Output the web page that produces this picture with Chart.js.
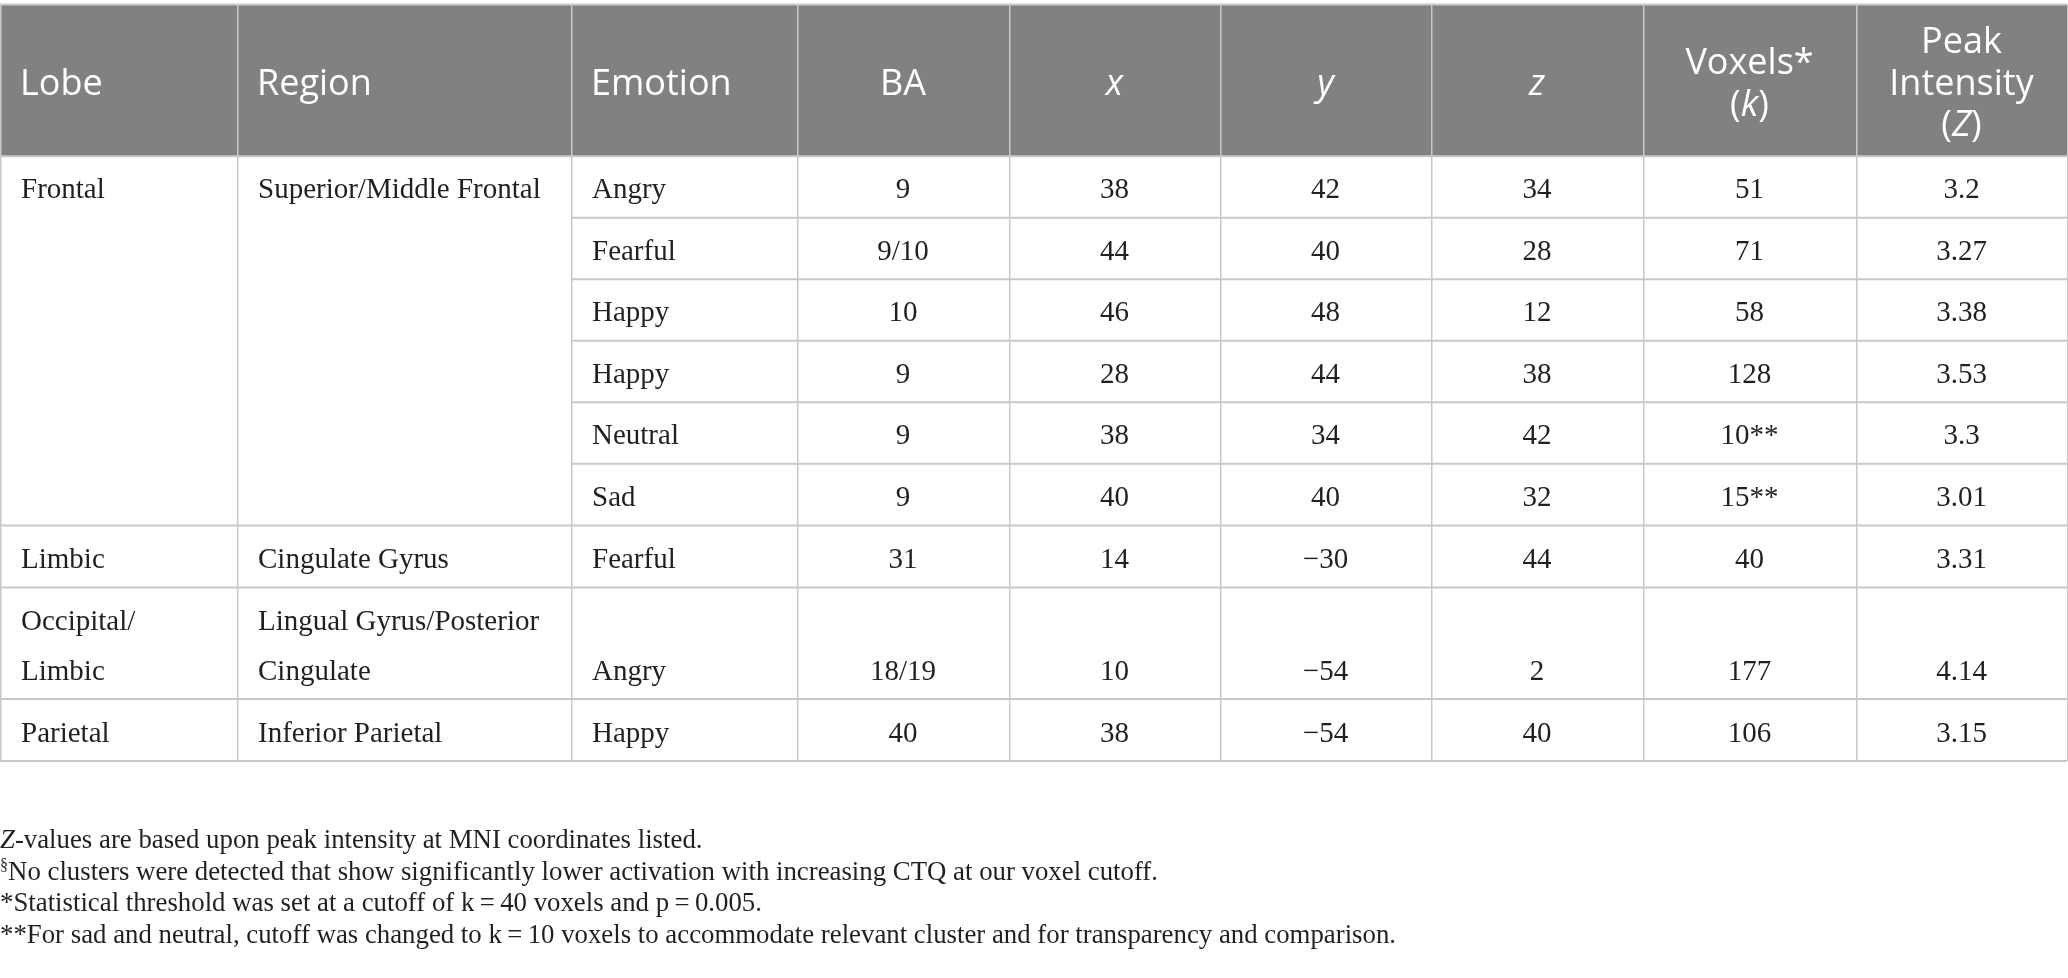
<!DOCTYPE html>
<html lang="en">
<head>
<meta charset="UTF-8">
<title>Clusters by lobe and emotion</title>
<script src="https://cdn.jsdelivr.net/npm/chart.js"></script>
<style>
    body { margin: 0; background: #ffffff; }
    canvas { display: block; }
</style>
</head>
<body>
<canvas id="tableChart" width="2068" height="978"></canvas>
<script>
// ---- table content ("_" toggles italic, "^" toggles superscript, "\n" breaks a line) ----
const headerLabels = ["Lobe", "Region", "Emotion", "BA", "_x_", "_y_", "_z_", "Voxels*\n(_k_)", "Peak\nIntensity\n(_Z_)"];
const lobes    = ["Frontal", "", "", "", "", "", "Limbic", "Occipital/\nLimbic", "Parietal"];
const regions  = ["Superior/Middle Frontal", "", "", "", "", "", "Cingulate Gyrus", "Lingual Gyrus/Posterior\nCingulate", "Inferior Parietal"];
const spans    = [6, 0, 0, 0, 0, 0, 1, 1, 1];   // rows covered by the lobe/region cell
const emotions = ["Angry", "Fearful", "Happy", "Happy", "Neutral", "Sad", "Fearful", "Angry", "Happy"];
const baAreas  = ["9", "9/10", "10", "9", "9", "9", "31", "18/19", "40"];
const xCoords  = [38, 44, 46, 28, 38, 40, 14, 10, 38];
const yCoords  = [42, 40, 48, 44, 34, 40, -30, -54, -54];
const zCoords  = [34, 28, 12, 38, 42, 32, 44, 2, 40];
const voxels   = ["51", "71", "58", "128", "10**", "15**", "40", "177", "106"];
const peakZ    = ["3.2", "3.27", "3.38", "3.53", "3.3", "3.01", "3.31", "4.14", "3.15"];
const footnotes = [
    "_Z_-values are based upon peak intensity at MNI coordinates listed.",
    "^§^No clusters were detected that show significantly lower activation with increasing CTQ at our voxel cutoff.",
    "*Statistical threshold was set at a cutoff of k\u2009=\u200940 voxels and p\u2009=\u20090.005.",
    "**For sad and neutral, cutoff was changed to k\u2009=\u200910 voxels to accommodate relevant cluster and for transparency and comparison."
];

// ---- layout (table units = pixels of the scales below) ----
const colEdges = [0, 237, 571, 797, 1009, 1220, 1431, 1643, 1856, 2067];
const rowEdges = [4.5, 156.3, 217.8, 279.3, 340.8, 402.3, 463.8, 525.5, 587.5, 699, 761];
const leftCols = 3;            // Lobe, Region, Emotion are left aligned
const HEAD_BG = "#808281";
const GRID = "#c8c8c8";
const INK = "#231f20";
const headFont = "36px 'Open Sans'";
const bodyFont = "29px 'Liberation Serif'";
const noteFont = "26.8px 'Liberation Serif'";

const fmt = v => (typeof v === "number" && v < 0 ? "\u2212" + Math.abs(v) : String(v));

function drawRich(ctx, text, xPos, yBase, align, font) {
    const segs = [];
    let italic = false, sup = false, buf = "";
    const size = parseFloat(font);
    const family = font.slice(font.indexOf(" ") + 1);
    const push = () => {
        if (!buf) return;
        const f = (italic ? "italic " : "") + (sup ? size * 0.6 : size) + "px " + family;
        ctx.font = f;
        segs.push({ t: buf, f, w: ctx.measureText(buf).width, dy: sup ? -size * 0.35 : 0 });
        buf = "";
    };
    for (const ch of text) {
        if (ch === "_") { push(); italic = !italic; }
        else if (ch === "^") { push(); sup = !sup; }
        else buf += ch;
    }
    push();
    const total = segs.reduce((s, g) => s + g.w, 0);
    let cx = align === "center" ? xPos - total / 2 : xPos;
    ctx.textAlign = "left";
    ctx.textBaseline = "alphabetic";
    segs.forEach(g => { ctx.font = g.f; ctx.fillText(g.t, cx, yBase + g.dy); cx += g.w; });
}

const tablePlugin = {
    id: "tableCells",
    afterDraw(chart) {
        const { ctx, scales: { x, y } } = chart;
        const px = v => x.getPixelForValue(v);
        const py = v => y.getPixelForValue(v);
        ctx.save();

        // header band
        ctx.fillStyle = HEAD_BG;
        ctx.fillRect(px(colEdges[0]), py(rowEdges[0]), px(colEdges[9]) - px(colEdges[0]), py(rowEdges[1]) - py(rowEdges[0]));

        // header labels
        ctx.fillStyle = "#ffffff";
        headerLabels.forEach((lab, c) => {
            const lines = lab.split("\n");
            const mid = 94.8, lh = 41.5;
            lines.forEach((ln, i) => {
                const base = mid + (i - (lines.length - 1) / 2) * lh;
                if (c < leftCols) drawRich(ctx, ln, px(colEdges[c] + 20), py(base), "left", headFont);
                else drawRich(ctx, ln, px((colEdges[c] + colEdges[c + 1]) / 2), py(base), "center", headFont);
            });
        });

        // body cells (body row r runs from rowEdges[r + 1] to rowEdges[r + 2])
        ctx.fillStyle = INK;
        const cellText = (txt, c, r, rowsCovered, topAlign) => {
            const lines = txt.split("\n");
            const bottom = rowEdges[r + 1 + rowsCovered];
            lines.forEach((ln, i) => {
                let base;
                if (topAlign) base = rowEdges[r + 1] + 42 + i * 50;
                else base = bottom - 19.5 - (lines.length - 1 - i) * 50;
                if (c < leftCols) drawRich(ctx, ln, px(colEdges[c] + 21), py(base), "left", bodyFont);
                else drawRich(ctx, ln, px((colEdges[c] + colEdges[c + 1]) / 2), py(base), "center", bodyFont);
            });
        };
        emotions.forEach((em, r) => {
            if (spans[r] > 0) {
                const top = spans[r] > 1;
                cellText(lobes[r], 0, r, spans[r], top);
                cellText(regions[r], 1, r, spans[r], top);
            }
            [em, baAreas[r], xCoords[r], yCoords[r], zCoords[r], voxels[r], peakZ[r]]
                .forEach((v, k) => cellText(fmt(v), k + 2, r, 1, false));
        });

        // grid: horizontal rules
        ctx.strokeStyle = GRID;
        ctx.lineWidth = 2;
        rowEdges.forEach((ry, i) => {
            let x0 = colEdges[0];
            const r = i - 1;   // body row that starts at this edge
            if (r >= 0 && r < spans.length && spans[r] === 0) x0 = colEdges[2];
            ctx.beginPath();
            ctx.moveTo(px(x0), py(ry));
            ctx.lineTo(px(colEdges[9]), py(ry));
            ctx.stroke();
        });
        // grid: vertical rules
        ctx.lineWidth = 1.5;
        colEdges.forEach(cx => {
            ctx.beginPath();
            ctx.moveTo(px(cx) + 0.75, py(rowEdges[0]));
            ctx.lineTo(px(cx) + 0.75, py(rowEdges[rowEdges.length - 1]));
            ctx.stroke();
        });

        // footnotes
        ctx.fillStyle = INK;
        footnotes.forEach((t, i) => drawRich(ctx, t, px(0), py(848.3 + i * 31.5), "left", noteFont));
        ctx.restore();
    }
};

new Chart(document.getElementById("tableChart"), {
    type: "scatter",
    data: { datasets: [{ data: [] }] },
    options: {
        responsive: false,
        animation: false,
        devicePixelRatio: 1,
        layout: { padding: 0 },
        plugins: { legend: { display: false }, tooltip: { enabled: false } },
        scales: {
            x: { type: "linear", min: 0, max: 2068, display: false },
            y: { type: "linear", min: 0, max: 978, reverse: true, display: false }
        }
    },
    plugins: [tablePlugin]
});
</script>
</body>
</html>
